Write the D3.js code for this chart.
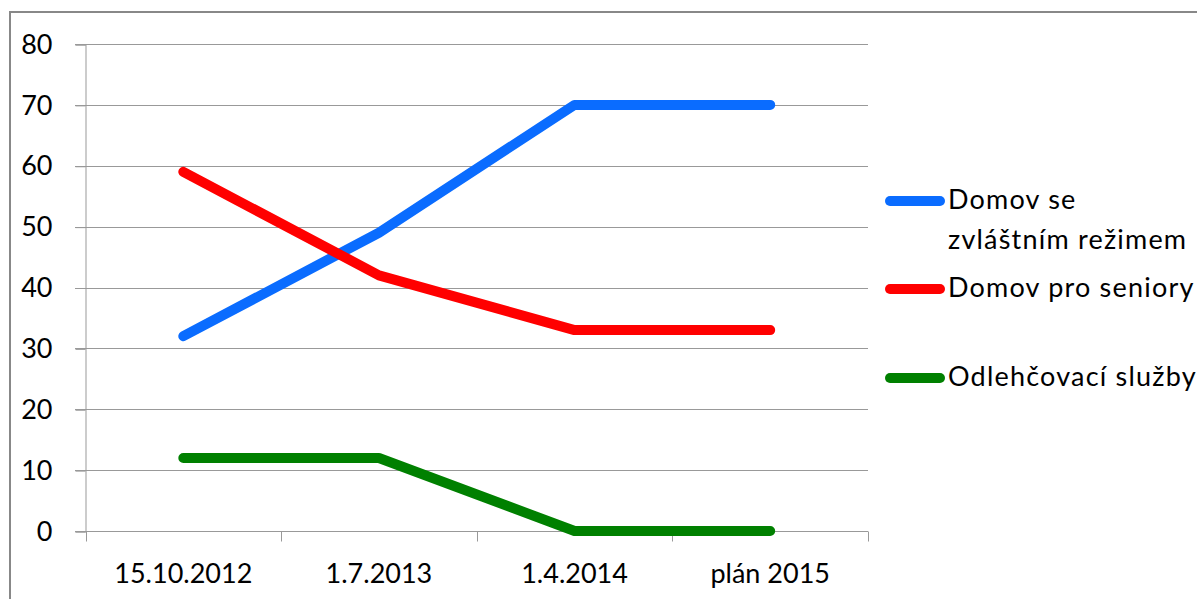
<!DOCTYPE html>
<html>
<head>
<meta charset="utf-8">
<script src="https://cdn.jsdelivr.net/npm/d3@7"></script>
<style>
  body { margin: 0; background: #fff; }
  text { font-family: Lato, "Noto Sans", sans-serif; fill: #000; }
</style>
</head>
<body>
<main></main>
<script>
const categories = ["15.10.2012", "1.7.2013", "1.4.2014", "plán 2015"];
const seriesNames = ["Domov se zvláštním režimem", "Domov pro seniory", "Odlehčovací služby"];
const seriesColors = ["#0a6cff", "#ff0000", "#008000"];
const seriesValues = [
  [32, 49, 70, 70],
  [59, 42, 33, 33],
  [12, 12, 0, 0]
];
const yTicks = [0, 10, 20, 30, 40, 50, 60, 70, 80];

const svg = d3.select("main")
              .append("svg")
              .attr("width", 1197)
              .attr("height", 599);

// outer chart frame (runs off the right and bottom edges)
svg.append("rect")
   .attr("x", 10).attr("y", 12)
   .attr("width", 1200).attr("height", 600)
   .attr("fill", "none")
   .attr("stroke", "#888").attr("stroke-width", 2);

const x = d3.scaleBand().domain(categories).range([85.5, 868]);
const y = d3.scaleLinear().domain([0, 80]).range([531, 44]);

// gridlines
svg.append("g").selectAll("line")
   .data(yTicks)
   .enter().append("line")
   .attr("x1", 75).attr("x2", 868)
   .attr("y1", d => Math.round(y(d)) + 0.5)
   .attr("y2", d => Math.round(y(d)) + 0.5)
   .attr("stroke", "#999");

// y axis
const yAxis = svg.append("g")
                 .attr("transform", "translate(85.5,0.5)")
                 .call(d3.axisLeft(y).tickValues(yTicks).tickSize(10).tickPadding(23));
yAxis.select(".domain").attr("stroke", "#999");
yAxis.selectAll(".tick line").attr("stroke", "#999");
yAxis.selectAll("text").style("font-size", "27px").attr("font-family", null);

// x axis with ticks between categories
const xAxis = svg.append("g").attr("transform", "translate(0,531.5)");
xAxis.append("line")
     .attr("x1", 85.5).attr("x2", 868)
     .attr("stroke", "#999");
const bounds = categories.map(c => x(c)).concat([x.range()[1]]);
xAxis.selectAll(".sep")
     .data(bounds)
     .enter().append("line")
     .attr("x1", d => Math.round(d) + 0.5).attr("x2", d => Math.round(d) + 0.5)
     .attr("y1", 0).attr("y2", 10)
     .attr("stroke", "#999");
xAxis.selectAll("text")
     .data(categories)
     .enter().append("text")
     .attr("x", d => x(d) + x.bandwidth() / 2)
     .attr("y", 51)
     .attr("text-anchor", "middle")
     .style("font-size", "27px")
     .text(d => d);

// series lines
const line = d3.line()
               .x((d, i) => x(categories[i]) + x.bandwidth() / 2)
               .y(d => y(d));

svg.append("g").selectAll("path")
   .data(seriesValues)
   .enter().append("path")
   .attr("d", line)
   .attr("fill", "none")
   .attr("stroke", (d, i) => seriesColors[i])
   .attr("stroke-width", 10)
   .attr("stroke-linecap", "round")
   .attr("stroke-linejoin", "round");

// legend
const legendY = [201, 289, 378];
const legendLines = [["Domov se", "zvláštním režimem"], ["Domov pro seniory"], ["Odlehčovací služby"]];
const legend = svg.append("g").selectAll("g")
                  .data(seriesNames)
                  .enter().append("g")
                  .attr("transform", (d, i) => `translate(0,${legendY[i]})`);
legend.append("line")
      .attr("x1", 890).attr("x2", 940)
      .attr("stroke", (d, i) => seriesColors[i])
      .attr("stroke-width", 10)
      .attr("stroke-linecap", "round");
legend.append("text")
      .attr("x", 948)
      .attr("y", 8)
      .style("font-size", "27px")
      .style("letter-spacing", "1.2px")
      .selectAll("tspan")
      .data((d, i) => legendLines[i])
      .enter().append("tspan")
      .attr("x", 948)
      .attr("dy", (d, j) => j === 0 ? 0 : 40)
      .text(d => d);
</script>
</body>
</html>
